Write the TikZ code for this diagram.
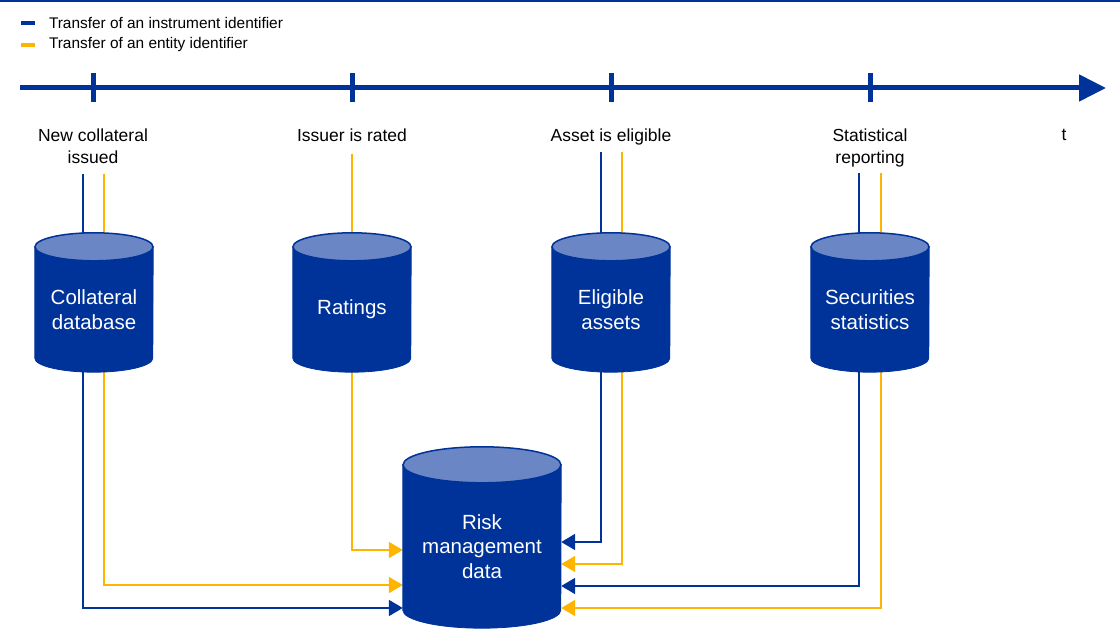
\documentclass[tikz,border=0pt]{standalone}
\usepackage{fontspec}
\setmainfont{Liberation Sans}
\usetikzlibrary{positioning,arrows.meta,backgrounds}

\definecolor{ecbblue}{HTML}{003399}
\definecolor{ecblight}{HTML}{6A86C4}
\definecolor{ecbyellow}{HTML}{FFB400}

\tikzset{
  db/.style={rectangle, minimum width=118pt, minimum height=125pt, inner sep=0pt,
    text=white, align=center, font=\fontsize{20.5}{24.5}\selectfont},
  bigdb/.style={db, minimum width=158pt, minimum height=163pt},
  event/.style={align=center, inner sep=0pt, font=\fontsize{17.5}{22}\selectfont},
  legendtxt/.style={inner sep=0pt, anchor=west, text=black, font=\fontsize{15.4}{18}\selectfont},
  instr/.style={draw=ecbblue, line width=1.9pt},
  entity/.style={draw=ecbyellow, line width=1.9pt},
  feed/.style={-{Triangle[length=14pt, width=16pt]}},
}

% body and lid of a database
\newcommand\dbbody[3]{%
  \filldraw[fill=ecbblue, draw=ecbblue, line width=0.8pt]
    (#1.north west) -- ([yshift=#3pt]#1.south west)
    arc[start angle=180, end angle=360, x radius=#2pt, y radius=#3pt]
    -- (#1.north east) -- cycle;
  \filldraw[fill=ecblight, draw=ecbblue, line width=1.5pt]
    (#1.north) ellipse[x radius=#2pt, y radius=#3pt];
}

\begin{document}
\begin{tikzpicture}[x=1pt, y=-1pt]
  \useasboundingbox (0,0) rectangle (1120,644);
  \draw[ecbblue, line width=2pt] (0,1) -- (1120,1);

  % Legend
  \draw[ecbblue, line width=4pt] (21,23) -- (35,23) node[legendtxt, right=12pt] (leginstr) {Transfer of an instrument identifier};
  \draw[ecbyellow, line width=4pt] (21,45) -- (35,45) node[legendtxt, right=12pt] (legentity) {Transfer of an entity identifier};

  % Time axis
  \coordinate (t0) at (20,88);
  \coordinate (t1) at (1106,88);
  \draw[ecbblue, line width=5pt, -{Triangle[length=27pt, width=26pt]}] (t0) -- (t1);
  \foreach \x in {93,352,611,870}
    \draw[ecbblue, line width=5pt] (\x,73) -- (\x,102);

  % Events
  \node[event] (newcoll) at (93,146) {New collateral\\issued};
  \node[event] (rated) at (352,135) {Issuer is rated};
  \node[event] (eligible) at (611,137) {Asset is eligible};
  \node[event] (statrep) at (870,148) {Statistical\\reporting};
  \node[event] (time) at (1064,135) {t};

  % Databases
  \node[db] (colldb) at (94,309.5) {Collateral\\database};
  \node[db] (ratings) at (352,309.5) {Ratings};
  \node[db] (eligdb) at (611,309.5) {Eligible\\assets};
  \node[db] (secstat) at (870,309.5) {Securities\\statistics};
  \node[db, bigdb] (risk) at (482,546.5) {Risk\\management\\data};

  \begin{scope}[on background layer]
    % events to databases
    \draw[instr] ([xshift=-11pt]colldb.north |- newcoll.south) ++(0,10) -- ([xshift=-11pt]colldb.center);
    \draw[entity] ([xshift=10pt]colldb.north |- newcoll.south) ++(0,10) -- ([xshift=10pt]colldb.center);
    \draw[entity] ([yshift=-12pt]rated.south) -- (ratings.center);
    \draw[instr] ([xshift=-10pt]eligdb.north |- eligible.south) ++(0,7) -- ([xshift=-10pt]eligdb.center);
    \draw[entity] ([xshift=11pt]eligdb.north |- eligible.south) ++(0,7) -- ([xshift=11pt]eligdb.center);
    \draw[instr] ([xshift=-11pt]secstat.north |- statrep.south) ++(0,6) -- ([xshift=-11pt]secstat.center);
    \draw[entity] ([xshift=11pt]secstat.north |- statrep.south) ++(0,6) -- ([xshift=11pt]secstat.center);

    % databases to risk management data
    \draw[instr, feed] ([xshift=-11pt]colldb.center) |- ([yshift=-61.5pt]risk.west);
    \draw[entity, feed] ([xshift=10pt]colldb.center) |- ([yshift=-38.5pt]risk.west);
    \draw[entity, feed] (ratings.center) |- ([yshift=-3.5pt]risk.west);
    \draw[instr, feed] ([xshift=-10pt]eligdb.center) |- ([yshift=4.5pt]risk.east);
    \draw[entity, feed] ([xshift=11pt]eligdb.center) |- ([yshift=-17.5pt]risk.east);
    \draw[instr, feed] ([xshift=-11pt]secstat.center) |- ([yshift=-39.5pt]risk.east);
    \draw[entity, feed] ([xshift=11pt]secstat.center) |- ([yshift=-61.5pt]risk.east);

    \dbbody{colldb}{59}{14}
    \dbbody{ratings}{59}{14}
    \dbbody{eligdb}{59}{14}
    \dbbody{secstat}{59}{14}
    \dbbody{risk}{79}{18}
  \end{scope}
\end{tikzpicture}
\end{document}
